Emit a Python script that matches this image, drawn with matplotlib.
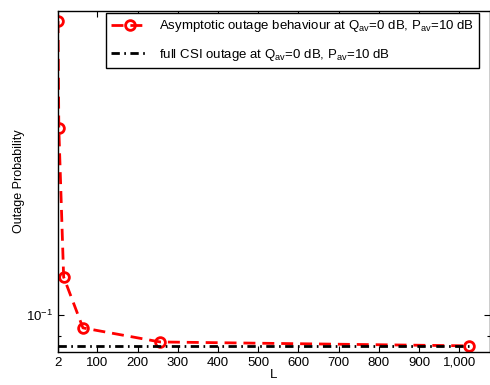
import numpy as np
import matplotlib
matplotlib.use('Agg')
import matplotlib.pyplot as plt
from matplotlib.ticker import FixedLocator, NullFormatter, FuncFormatter

plt.rcParams['font.family'] = ['Liberation Sans', 'DejaVu Sans']
plt.rcParams['mathtext.fontset'] = 'custom'
plt.rcParams['mathtext.rm'] = 'Liberation Sans'
plt.rcParams['mathtext.it'] = 'Liberation Sans:italic'
plt.rcParams['font.size'] = 9

# data
L = [2, 4, 16, 64, 256, 1024]
asym_outage = [0.4385, 0.256, 0.121, 0.0937, 0.0873, 0.0856]
full_csi = [0.0855, 0.0855, 0.0855, 0.0855, 0.0855, 0.0855]

xticks = [2, 100, 200, 300, 400, 500, 600, 700, 800, 900, 1000]
xtick_labels = ['2', '100', '200', '300', '400', '500', '600', '700', '800', '900', '1,000']

fig = plt.figure(figsize=(4.9, 3.85), dpi=100)
ax = fig.add_axes([0.1184, 0.0857, 0.8806, 0.8857])

ax.plot(L, asym_outage, color='red', linestyle=(0, (4.3, 2.5)), lw=2,
        marker='o', markersize=7, markerfacecolor='none', markeredgewidth=2,
        label='Asymptotic outage behaviour at Q$_{\\mathrm{av}}$=0 dB, P$_{\\mathrm{av}}$=10 dB')
ax.plot(L, full_csi, color='black', linestyle=(0, (3, 1.6, 0.6, 1.6)), lw=2,
        label='full CSI outage at Q$_{\\mathrm{av}}$=0 dB, P$_{\\mathrm{av}}$=10 dB')

ax.set_yscale('log')
ax.set_xlim(2, 1075)
ax.set_ylim(0.0830, 0.4613)

ax.set_xticks(xticks)
ax.set_xticklabels(xtick_labels)
ax.yaxis.set_major_locator(FixedLocator([0.1]))
ax.yaxis.set_major_formatter(FuncFormatter(lambda v, p: '$10^{-1}$'))
ax.yaxis.set_minor_locator(FixedLocator([0.09]))
ax.yaxis.set_minor_formatter(NullFormatter())

ax.tick_params(direction='in', top=True, right=True, length=4, width=0.8, labelsize=9.5)
ax.tick_params(which='minor', direction='in', right=True, length=2.5, width=0.8)
for s in ax.spines.values():
    s.set_linewidth(1.0)

ax.set_xlabel('L', labelpad=0, fontsize=9.5)
ax.set_ylabel('Outage Probability', labelpad=1)

leg = ax.legend(loc='upper right', bbox_to_anchor=(0.976, 0.994), borderaxespad=0,
                fancybox=False, edgecolor='black', framealpha=1, handlelength=2.8,
                labelspacing=0.95, fontsize=9.5)
leg.get_frame().set_linewidth(1.0)

fig.savefig('out.png', dpi=100)
